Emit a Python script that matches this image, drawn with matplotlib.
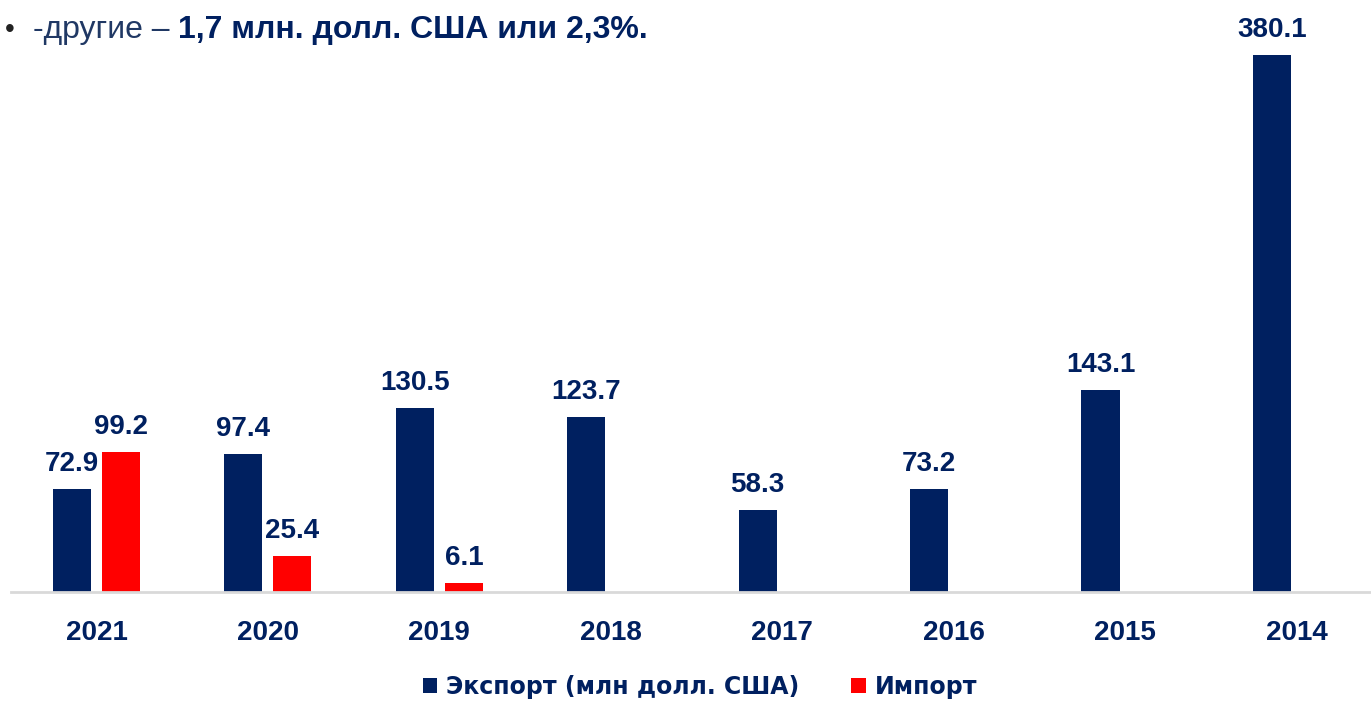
import matplotlib.pyplot as plt
import numpy as np

years = ['2021', '2020', '2019', '2018', '2017', '2016', '2015', '2014']
export = [72.9, 97.4, 130.5, 123.7, 58.3, 73.2, 143.1, 380.1]
imports = [99.2, 25.4, 6.1, None, None, None, None, None]

navy = '#002060'
red = '#FF0000'
plt.rcParams['font.family'] = ['Liberation Sans', 'DejaVu Sans']

fig = plt.figure(figsize=(13.71, 7.02), dpi=100)
ax = fig.add_axes([0, 110 / 702, 1, 592 / 702])

x = np.arange(len(years))
w = 0.222
off = 0.143
ax.bar(x - off, export, w, color=navy, label='Экспорт (млн долл. США)')
imp_x = [i + off for i, v in enumerate(imports) if v is not None]
imp_v = [v for v in imports if v is not None]
ax.bar(imp_x, imp_v, w, color=red, label='Импорт')

for xi, v in zip(x - off, export):
    ax.annotate(f'{v:.1f}', (xi, v), xytext=(0, 13), textcoords='offset points',
                ha='center', va='baseline', fontsize=20, fontweight='bold', color=navy)
for xi, v in zip(imp_x, imp_v):
    ax.annotate(f'{v:.1f}', (xi, v), xytext=(0, 13), textcoords='offset points',
                ha='center', va='baseline', fontsize=20, fontweight='bold', color=navy)

ax.set_xlim(-0.563, 7.435)
ax.set_ylim(0, 419.0)
for s in ['top', 'right', 'left']:
    ax.spines[s].set_visible(False)
ax.spines['bottom'].set_color('#D9D9D9')
ax.spines['bottom'].set_linewidth(2)
ax.spines['bottom'].set_bounds(-0.5, 7.435)
ax.set_yticks([])
ax.set_xticks(x)
ax.set_xticklabels(years, fontsize=20, fontweight='bold', color=navy)
ax.tick_params(axis='x', length=0, pad=20)

leg = fig.legend(loc='center', bbox_to_anchor=(700 / 1371, 1 - 687 / 702), ncol=2, frameon=False,
                 prop={'family': 'DejaVu Sans', 'size': 17, 'weight': 'bold'},
                 handlelength=0.6, handleheight=0.6, handletextpad=0.4, columnspacing=2.2)
for t in leg.get_texts():
    t.set_color(navy)

# overlapping slide text at the top
fig.text(5 / 1371, 1 - 30 / 702, '•', fontsize=20, color='#222222', va='center')
t1 = fig.text(33 / 1371, 1 - 30 / 702, '-другие – ', fontsize=23, color='#203864', va='center')
fig.canvas.draw()
bb = t1.get_window_extent()
fig.text(bb.x1 / fig.bbox.width, 1 - 30 / 702, '1,7 млн. долл. США или 2,3%.',
         fontsize=23, fontweight='bold', color=navy, va='center')

fig.savefig('out.png', dpi=100)
